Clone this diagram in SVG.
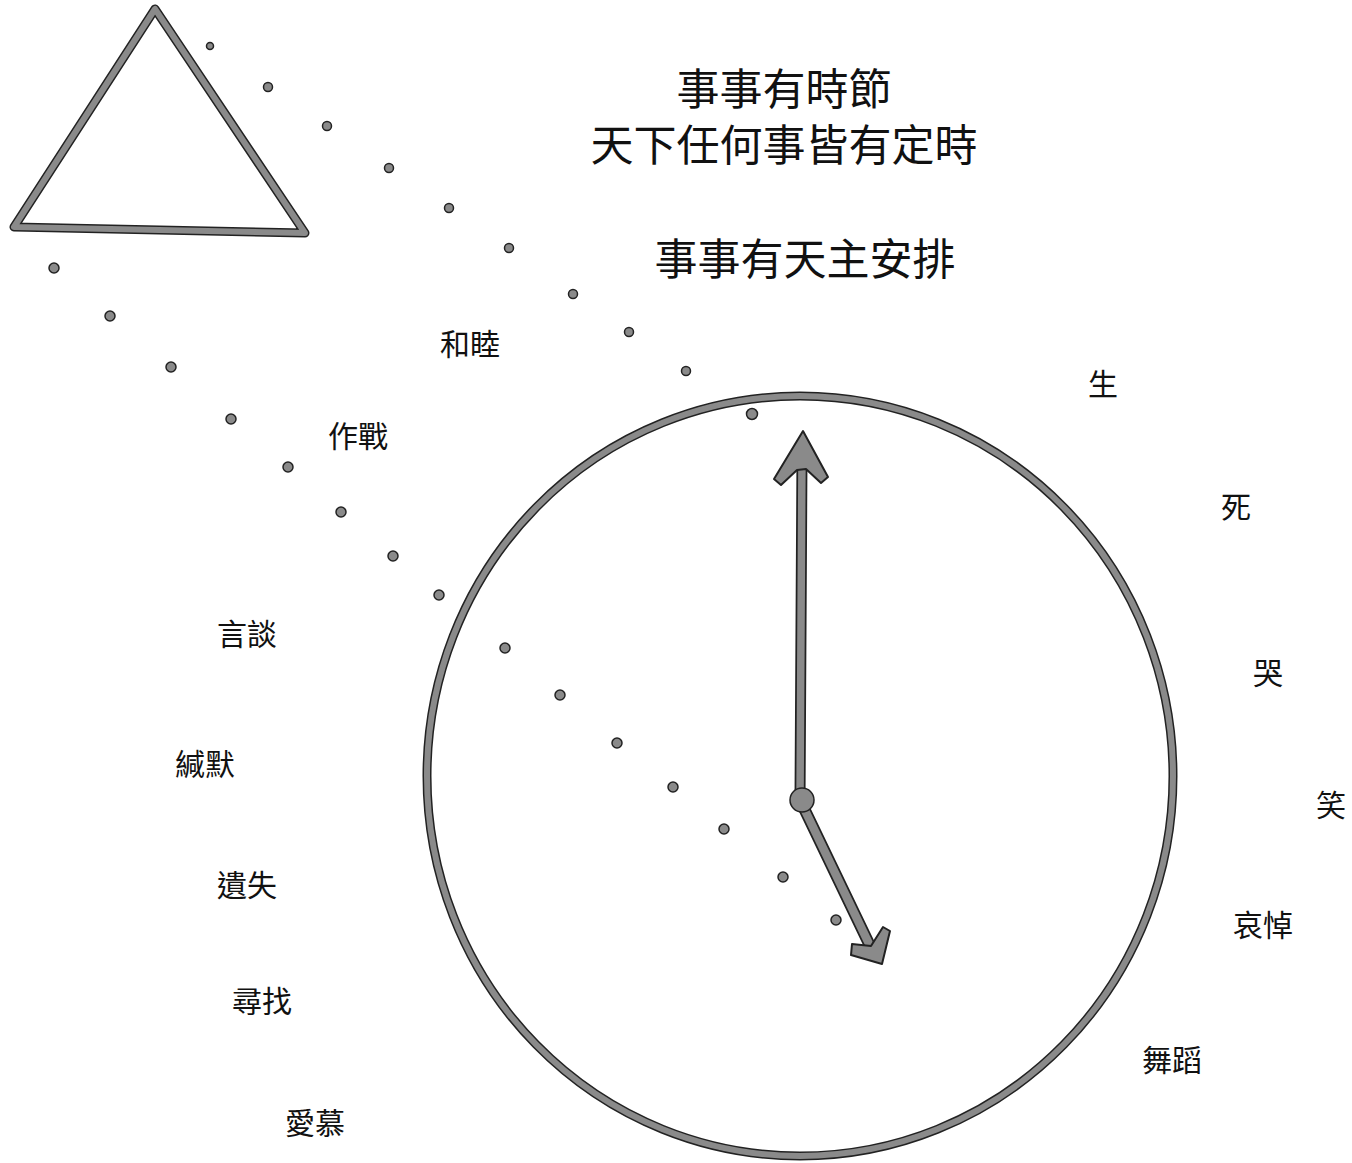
<svg xmlns="http://www.w3.org/2000/svg" width="1352" height="1163" viewBox="0 0 1352 1163">
<style>
.t{font-family:"Noto Sans CJK TC","Noto Sans CJK SC",sans-serif;fill:#111;text-anchor:middle;dominant-baseline:central}
.big{font-size:43px}
.lab{font-size:30px}
.out{fill:none;stroke:#222;stroke-linecap:round;stroke-linejoin:round}
.in{fill:none;stroke:#8a8a8a;stroke-linecap:round;stroke-linejoin:round}
.dot{fill:#8a8a8a;stroke:#222;stroke-width:1.5}
.head{fill:#8a8a8a;stroke:#222;stroke-width:2;stroke-linejoin:round}
</style>
<rect width="1352" height="1163" fill="#fff"/>
<g id="triangle">
<polygon class="out" points="155,9 14,227 305,233" stroke-width="9"/>
<polygon class="in" points="155,9 14,227 305,233" stroke-width="6"/>
</g>
<g id="clock">
<ellipse class="out" cx="800" cy="776" rx="373" ry="380" stroke-width="9"/>
<ellipse class="in" cx="800" cy="776" rx="373" ry="380" stroke-width="6"/>
</g>
<g id="hands">
<path class="out" d="M800,800 L802,455" stroke-width="11"/>
<path class="in" d="M800,800 L802,455" stroke-width="7.5"/>
<path class="out" d="M800,800 L872,950" stroke-width="12"/>
<path class="in" d="M800,800 L872,950" stroke-width="8.5"/>
<polygon class="head" points="803,431 828,477 821,483 806,469 797,470 781,485 774,479"/>
<polygon class="head" points="882,964 851,955 852,944 871,946 883,927 890,931"/>
<circle class="dot" cx="802" cy="800" r="12"/>
</g>
<g id="dots">
<circle class="dot" cx="210" cy="46" r="3.5"/>
<circle class="dot" cx="268" cy="87" r="4.5"/>
<circle class="dot" cx="327" cy="126" r="4.5"/>
<circle class="dot" cx="389" cy="168" r="4.5"/>
<circle class="dot" cx="449" cy="208" r="4.5"/>
<circle class="dot" cx="509" cy="248" r="4.5"/>
<circle class="dot" cx="573" cy="294" r="4.5"/>
<circle class="dot" cx="629" cy="332" r="4.5"/>
<circle class="dot" cx="686" cy="371" r="4.5"/>
<circle class="dot" cx="752" cy="414" r="5.5"/>
<circle class="dot" cx="54" cy="268" r="5"/>
<circle class="dot" cx="110" cy="316" r="5"/>
<circle class="dot" cx="171" cy="367" r="5"/>
<circle class="dot" cx="231" cy="419" r="5"/>
<circle class="dot" cx="288" cy="467" r="5"/>
<circle class="dot" cx="341" cy="512" r="5"/>
<circle class="dot" cx="393" cy="556" r="5"/>
<circle class="dot" cx="439" cy="595" r="5"/>
<circle class="dot" cx="505" cy="648" r="5"/>
<circle class="dot" cx="560" cy="695" r="5"/>
<circle class="dot" cx="617" cy="743" r="5"/>
<circle class="dot" cx="673" cy="787" r="5"/>
<circle class="dot" cx="724" cy="829" r="5"/>
<circle class="dot" cx="783" cy="877" r="5"/>
<circle class="dot" cx="836" cy="920" r="5"/>
</g>
<g id="titles">
<text class="t big" x="784" y="86">事事有時節</text>
<text class="t big" x="784" y="142">天下任何事皆有定時</text>
<text class="t big" x="805" y="256">事事有天主安排</text>
</g>
<g id="labels">
<text class="t lab" x="470" y="342">和睦</text>
<text class="t lab" x="358" y="434">作戰</text>
<text class="t lab" x="247" y="632">言談</text>
<text class="t lab" x="205" y="762">緘默</text>
<text class="t lab" x="247" y="883">遺失</text>
<text class="t lab" x="262" y="999">尋找</text>
<text class="t lab" x="315" y="1121">愛慕</text>
<text class="t lab" x="1103" y="382">生</text>
<text class="t lab" x="1236" y="505">死</text>
<text class="t lab" x="1268" y="671">哭</text>
<text class="t lab" x="1331" y="803">笑</text>
<text class="t lab" x="1263" y="923">哀悼</text>
<text class="t lab" x="1172" y="1058">舞蹈</text>
</g>
</svg>
